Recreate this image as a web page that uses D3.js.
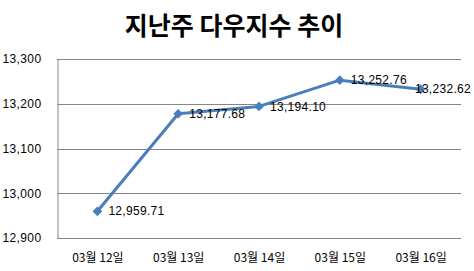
<!DOCTYPE html>
<html>
<head>
<meta charset="utf-8">
<script src="https://cdn.jsdelivr.net/npm/d3@7"></script>
<style>
  body { margin: 0; background: #fff; }
</style>
</head>
<body>
<div id="chart"></div>
<script>
const title = "지난주 다우지수 추이";
const dates = ["03월 12일", "03월 13일", "03월 14일", "03월 15일", "03월 16일"];
const closes = [12959.71, 13177.68, 13194.10, 13252.76, 13232.62];
const yTicks = [12900, 13000, 13100, 13200, 13300];

const W = 474, H = 271;
const margin = { top: 59, right: 13, bottom: 33, left: 57 };
const width = W - margin.left - margin.right;
const height = H - margin.top - margin.bottom;

const svg = d3.select("#chart")
  .append("svg")
  .attr("width", W)
  .attr("height", H);

svg.append("text")
  .attr("x", 234)
  .attr("y", 35)
  .style("text-anchor", "middle")
  .style("font-family", "'Noto Sans CJK KR', sans-serif")
  .style("font-weight", "bold")
  .style("font-size", "25px")
  .text(title);

const g = svg.append("g")
  .attr("transform", "translate(" + margin.left + "," + margin.top + ")");

const x = d3.scalePoint()
  .domain(dates)
  .range([0, width])
  .padding(0.5);

const y = d3.scaleLinear()
  .domain([12900, 13300])
  .range([height, 0]);

// gridlines
g.selectAll("line.grid")
  .data(yTicks)
  .enter().append("line")
  .attr("class", "grid")
  .attr("x1", 0)
  .attr("x2", width)
  .attr("y1", d => Math.round(y(d)) + 0.5)
  .attr("y2", d => Math.round(y(d)) + 0.5)
  .style("stroke", "#868686")
  .style("stroke-width", 1);

// y axis
const yAxis = d3.axisLeft(y)
  .tickValues(yTicks)
  .tickSize(0)
  .tickPadding(16)
  .tickFormat(d3.format(","));

g.append("g")
  .attr("class", "y axis")
  .attr("transform", "translate(0.5,0)")
  .call(yAxis)
  .call(a => a.select(".domain").style("stroke", "#868686"))
  .selectAll("text")
  .style("font-family", "'Liberation Sans', Arial, sans-serif")
  .style("font-size", "12px")
  .style("letter-spacing", "0.4px")
  .style("fill", "#000");

// x axis
const xAxis = d3.axisBottom(x)
  .tickSize(0)
  .tickPadding(15);

g.append("g")
  .attr("class", "x axis")
  .attr("transform", "translate(0," + height + ")")
  .call(xAxis)
  .call(a => a.select(".domain").remove())
  .selectAll("text")
  .style("font-family", "'Noto Sans CJK KR', sans-serif")
  .style("font-size", "12px")
  .style("fill", "#000");

const data = dates.map((d, i) => ({ date: d, value: closes[i] }));

const line = d3.line()
  .x(d => x(d.date))
  .y(d => y(d.value));

g.append("path")
  .datum(data)
  .attr("d", line)
  .style("fill", "none")
  .style("stroke", "#4a7ebb")
  .style("stroke-width", 3)
  .style("stroke-linejoin", "round");

g.selectAll(".marker")
  .data(data)
  .enter().append("path")
  .attr("class", "marker")
  .attr("d", d3.symbol().type(d3.symbolDiamond2).size(60))
  .attr("transform", d => "translate(" + x(d.date) + "," + y(d.value) + ")")
  .style("fill", "#4a7ebb");

// value labels, pulled back inside if they run past the right edge
g.selectAll(".label")
  .data(data)
  .enter().append("text")
  .attr("class", "label")
  .attr("x", d => x(d.date) + 11)
  .attr("y", d => y(d.value))
  .attr("dy", ".35em")
  .style("font-family", "'Liberation Sans', Arial, sans-serif")
  .style("font-size", "12px")
  .style("letter-spacing", "0.3px")
  .style("fill", "#000")
  .text(d => d3.format(",.2f")(d.value))
  .each(function (d) {
    const w = this.getComputedTextLength();
    const maxX = W - margin.left - 3;
    const x0 = x(d.date) + 11;
    if (x0 + w > maxX) d3.select(this).attr("x", maxX - w);
  });
</script>
</body>
</html>
